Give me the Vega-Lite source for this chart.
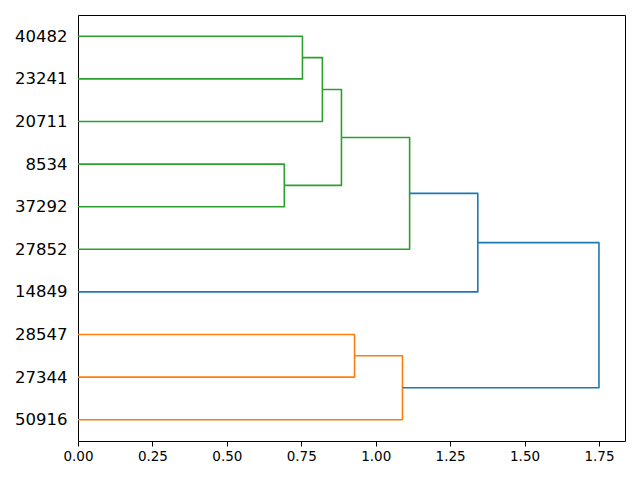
{
  "$schema": "https://vega.github.io/schema/vega-lite/v6.json",
  "width": 547,
  "height": 426,
  "autosize": {"type": "none"},
  "padding": {"left": 78, "top": 15, "right": 15, "bottom": 39},
  "background": "white",
  "config": {
    "view": {"stroke": "black", "strokeWidth": 1},
    "axis": {"grid": false, "domain": false, "labelFont": "DejaVu Sans", "labelColor": "black", "tickColor": "black", "labelFlush": false, "labelOverlap": false}
  },
  "data": {
    "values": [
      {"link": 1, "ord": 1, "d": 0, "i": 95, "c": "g"},
      {"link": 1, "ord": 2, "d": 0.754, "i": 95, "c": "g"},
      {"link": 1, "ord": 3, "d": 0.754, "i": 85, "c": "g"},
      {"link": 1, "ord": 4, "d": 0, "i": 85, "c": "g"},
      {"link": 2, "ord": 1, "d": 0.754, "i": 90, "c": "g"},
      {"link": 2, "ord": 2, "d": 0.821, "i": 90, "c": "g"},
      {"link": 2, "ord": 3, "d": 0.821, "i": 75, "c": "g"},
      {"link": 2, "ord": 4, "d": 0, "i": 75, "c": "g"},
      {"link": 3, "ord": 1, "d": 0, "i": 65, "c": "g"},
      {"link": 3, "ord": 2, "d": 0.693, "i": 65, "c": "g"},
      {"link": 3, "ord": 3, "d": 0.693, "i": 55, "c": "g"},
      {"link": 3, "ord": 4, "d": 0, "i": 55, "c": "g"},
      {"link": 4, "ord": 1, "d": 0.821, "i": 82.5, "c": "g"},
      {"link": 4, "ord": 2, "d": 0.885, "i": 82.5, "c": "g"},
      {"link": 4, "ord": 3, "d": 0.885, "i": 60, "c": "g"},
      {"link": 4, "ord": 4, "d": 0.693, "i": 60, "c": "g"},
      {"link": 5, "ord": 1, "d": 0.885, "i": 71.25, "c": "g"},
      {"link": 5, "ord": 2, "d": 1.114, "i": 71.25, "c": "g"},
      {"link": 5, "ord": 3, "d": 1.114, "i": 45, "c": "g"},
      {"link": 5, "ord": 4, "d": 0, "i": 45, "c": "g"},
      {"link": 6, "ord": 1, "d": 1.114, "i": 58.125, "c": "b"},
      {"link": 6, "ord": 2, "d": 1.343, "i": 58.125, "c": "b"},
      {"link": 6, "ord": 3, "d": 1.343, "i": 35, "c": "b"},
      {"link": 6, "ord": 4, "d": 0, "i": 35, "c": "b"},
      {"link": 7, "ord": 1, "d": 0, "i": 25, "c": "o"},
      {"link": 7, "ord": 2, "d": 0.929, "i": 25, "c": "o"},
      {"link": 7, "ord": 3, "d": 0.929, "i": 15, "c": "o"},
      {"link": 7, "ord": 4, "d": 0, "i": 15, "c": "o"},
      {"link": 8, "ord": 1, "d": 0.929, "i": 20, "c": "o"},
      {"link": 8, "ord": 2, "d": 1.09, "i": 20, "c": "o"},
      {"link": 8, "ord": 3, "d": 1.09, "i": 5, "c": "o"},
      {"link": 8, "ord": 4, "d": 0, "i": 5, "c": "o"},
      {"link": 9, "ord": 1, "d": 1.343, "i": 46.5625, "c": "b"},
      {"link": 9, "ord": 2, "d": 1.75, "i": 46.5625, "c": "b"},
      {"link": 9, "ord": 3, "d": 1.75, "i": 12.5, "c": "b"},
      {"link": 9, "ord": 4, "d": 1.09, "i": 12.5, "c": "b"}
    ]
  },
  "mark": {"type": "line", "strokeWidth": 1.6, "strokeJoin": "round", "clip": false},
  "encoding": {
    "x": {
      "field": "d", "type": "quantitative",
      "scale": {"domain": [0, 1.8375], "nice": false, "zero": false},
      "axis": {"title": null, "values": [0, 0.25, 0.5, 0.75, 1, 1.25, 1.5, 1.75], "format": ".2f", "labelFontSize": 13.5, "tickSize": 5, "labelPadding": 3, "tickWidth": 1}
    },
    "y": {
      "field": "i", "type": "quantitative",
      "scale": {"domain": [0, 100], "nice": false, "zero": false},
      "axis": {
        "title": null,
        "values": [5, 15, 25, 35, 45, 55, 65, 75, 85, 95],
        "labelExpr": "['50916','27344','28547','14849','27852','37292','8534','20711','23241','40482'][round((datum.value-5)/10)]",
        "labelFontSize": 16.5, "tickSize": 0, "labelPadding": 11
      }
    },
    "detail": {"field": "link"},
    "order": {"field": "ord"},
    "color": {
      "field": "c", "type": "nominal", "legend": null,
      "scale": {"domain": ["g", "o", "b"], "range": ["#2ca02c", "#ff7f0e", "#1f77b4"]}
    }
  }
}
